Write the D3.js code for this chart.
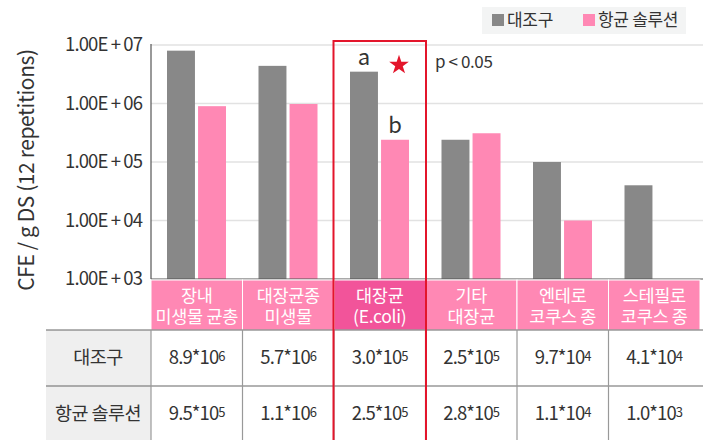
<!DOCTYPE html>
<html>
<head>
<meta charset="utf-8">
<script src="https://cdn.jsdelivr.net/npm/d3@7"></script>
<style>
  body { margin: 0; background: #fff; }
  svg { font-family: "Noto Sans CJK KR", "Noto Sans", sans-serif; display: block; }
</style>
</head>
<body>
<div id="chart"></div>
<script>
var categories = [["장내", "미생물 균총"], ["대장균종", "미생물"], ["대장균", "(E.coli)"], ["기타", "대장균"], ["엔테로", "코쿠스 종"], ["스테필로", "코쿠스 종"]];
var seriesNames = ["대조구", "항균 솔루션"];
var controlValues = [8.0e6, 4.4e6, 3.5e6, 2.4e5, 1.0e5, 4.0e4];
var treatValues = [9.0e5, 9.8e5, 2.4e5, 3.1e5, 1.0e4, 1.0e3];
var tableControl = [["8.9", "6"], ["5.7", "6"], ["3.0", "5"], ["2.5", "5"], ["9.7", "4"], ["4.1", "4"]];
var tableTreat = [["9.5", "5"], ["1.1", "6"], ["2.5", "5"], ["2.8", "5"], ["1.1", "4"], ["1.0", "3"]];
var yTicks = [1e3, 1e4, 1e5, 1e6, 1e7];
var yTickLabels = ["1.00E + 03", "1.00E + 04", "1.00E + 05", "1.00E + 06", "1.00E + 07"];
var highlightIndex = 2;

var W = 703, H = 440;
var colors = ["#888888", "#ff88b4"];

var svg = d3.select("#chart").append("svg")
    .attr("width", W).attr("height", H);

var x = d3.scaleBand()
    .domain(d3.range(categories.length))
    .range([151, 700]);

var xInner = d3.scaleBand()
    .domain([0, 1])
    .range([16, 75])
    .paddingInner(0.1);

var y = d3.scaleLog()
    .domain([1e3, 1e7])
    .range([279, 45]);

// grid
svg.append("g")
    .selectAll("line")
    .data(yTicks.slice(1))
    .enter().append("line")
    .attr("x1", 151).attr("x2", 703)
    .attr("y1", function(d) { return y(d); })
    .attr("y2", function(d) { return y(d); })
    .attr("stroke", "#e2e2e2")
    .attr("stroke-width", 1.5);

// y tick labels
svg.append("g")
    .selectAll("text")
    .data(yTicks)
    .enter().append("text")
    .attr("x", 142)
    .attr("y", function(d) { return y(d); })
    .attr("dy", "0.35em")
    .attr("text-anchor", "end")
    .attr("fill", "#333")
    .style("font-size", "18.5px")
    .style("letter-spacing", "-0.9px")
    .text(function(d, i) { return yTickLabels[i]; });

// y title
svg.append("text")
    .attr("transform", "translate(34,170) rotate(-90)")
    .attr("text-anchor", "middle")
    .attr("fill", "#333")
    .style("font-size", "21px")
    .style("letter-spacing", "-0.4px")
    .text("CFE / g DS (12 repetitions)");

// bars
var series = [controlValues, treatValues];
series.forEach(function(vals, s) {
    svg.append("g")
        .selectAll("rect")
        .data(vals)
        .enter().append("rect")
        .attr("x", function(d, i) { return x(i) + xInner(s); })
        .attr("width", xInner.bandwidth())
        .attr("y", function(d) { return y(d); })
        .attr("height", function(d) { return y(1e3) - y(d); })
        .attr("fill", colors[s]);
});

// axis lines
svg.append("line")
    .attr("x1", 151).attr("x2", 151)
    .attr("y1", 44).attr("y2", 279)
    .attr("stroke", "#555").attr("stroke-width", 1.2);
svg.append("line")
    .attr("x1", 151).attr("x2", 703)
    .attr("y1", 279).attr("y2", 279)
    .attr("stroke", "#555").attr("stroke-width", 1.2);

// category label row
var catRow = svg.append("g");
catRow.selectAll("rect")
    .data(categories)
    .enter().append("rect")
    .attr("x", function(d, i) { return x(i); })
    .attr("y", 280)
    .attr("width", x.bandwidth())
    .attr("height", 50)
    .attr("fill", function(d, i) { return i === highlightIndex ? "#f2549a" : "#ff88b4"; })
    .attr("stroke", "#fff")
    .attr("stroke-width", 1);

[0, 1].forEach(function(line) {
    catRow.append("g")
        .selectAll("text")
        .data(categories)
        .enter().append("text")
        .attr("x", function(d, i) { return x(i) + x.bandwidth() / 2; })
        .attr("y", 296 + line * 21)
        .attr("dy", "0.35em")
        .attr("text-anchor", "middle")
        .attr("fill", "#fff")
        .style("font-size", "17.5px")
        .style("letter-spacing", "-0.3px")
        .text(function(d) { return d[line]; });
});

// table
var table = svg.append("g");
table.append("rect")
    .attr("x", 46).attr("y", 330)
    .attr("width", 105).attr("height", 110)
    .attr("fill", "#efefef");

var rowsY = [330, 386];
table.selectAll("line.h")
    .data(rowsY)
    .enter().append("line")
    .attr("x1", 46).attr("x2", 703)
    .attr("y1", function(d) { return d; })
    .attr("y2", function(d) { return d; })
    .attr("stroke", "#666").attr("stroke-width", 1.2);

var vlines = [151].concat(d3.range(1, categories.length).map(function(i) { return x(i); }));
table.selectAll("line.v")
    .data(vlines)
    .enter().append("line")
    .attr("x1", function(d) { return d; })
    .attr("x2", function(d) { return d; })
    .attr("y1", 330).attr("y2", 440)
    .attr("stroke", "#999").attr("stroke-width", 1.2);

table.selectAll("text.rowname")
    .data(seriesNames)
    .enter().append("text")
    .attr("x", 98)
    .attr("y", function(d, i) { return rowsY[i] + 28; })
    .attr("dy", "0.35em")
    .attr("text-anchor", "middle")
    .attr("fill", "#333")
    .style("font-size", "18.5px")
    .style("letter-spacing", "-0.5px")
    .text(function(d) { return d; });

[tableControl, tableTreat].forEach(function(rowVals, r) {
    table.append("g")
        .selectAll("text")
        .data(rowVals)
        .enter().append("text")
        .attr("x", function(d, i) { return x(i) + x.bandwidth() / 2; })
        .attr("y", rowsY[r] + 28)
        .attr("dy", "0.35em")
        .attr("text-anchor", "middle")
        .attr("fill", "#333")
        .style("font-size", "18.5px")
        .style("letter-spacing", "-0.9px")
        .each(function(d) {
            var t = d3.select(this);
            t.append("tspan").text(d[0] + "*10");
            t.append("tspan").attr("dy", -3).style("font-size", "13px").text(d[1]);
        });
});

// highlight box
svg.append("rect")
    .attr("x", x(highlightIndex) - 0.5)
    .attr("y", 41)
    .attr("width", x.bandwidth() + 1)
    .attr("height", 402)
    .attr("fill", "none")
    .attr("stroke", "#e3152b")
    .attr("stroke-width", 2);

// significance labels
var hx = x(highlightIndex);
svg.append("text")
    .attr("x", hx + xInner(0) + xInner.bandwidth() / 2)
    .attr("y", y(controlValues[highlightIndex]) - 7)
    .attr("text-anchor", "middle")
    .attr("fill", "#333")
    .style("font-size", "22px")
    .text("a");
svg.append("text")
    .attr("x", hx + xInner(1) + xInner.bandwidth() / 2)
    .attr("y", y(treatValues[highlightIndex]) - 7)
    .attr("text-anchor", "middle")
    .attr("fill", "#333")
    .style("font-size", "22px")
    .text("b");
svg.append("path")
    .attr("d", d3.symbol().type(d3.symbolStar).size(120))
    .attr("transform", "translate(" + (hx + 65) + ",65)")
    .attr("fill", "#e3152b");
svg.append("text")
    .attr("x", 435)
    .attr("y", 62)
    .attr("dy", "0.35em")
    .attr("fill", "#333")
    .style("font-size", "17px")
    .style("letter-spacing", "-0.4px")
    .text("p < 0.05");

// legend
var legend = svg.append("g");
legend.append("rect")
    .attr("x", 482).attr("y", 7)
    .attr("width", 204).attr("height", 27)
    .attr("fill", "#f3f4f4");
var legX = [492, 583];
seriesNames.forEach(function(name, i) {
    legend.append("rect")
        .attr("x", legX[i]).attr("y", 14)
        .attr("width", 12).attr("height", 12)
        .attr("fill", colors[i]);
    legend.append("text")
        .attr("x", legX[i] + 15)
        .attr("y", 20)
        .attr("dy", "0.35em")
        .attr("fill", "#333")
        .style("font-size", "17px")
        .style("letter-spacing", "-0.3px")
        .text(name);
});
</script>
</body>
</html>
